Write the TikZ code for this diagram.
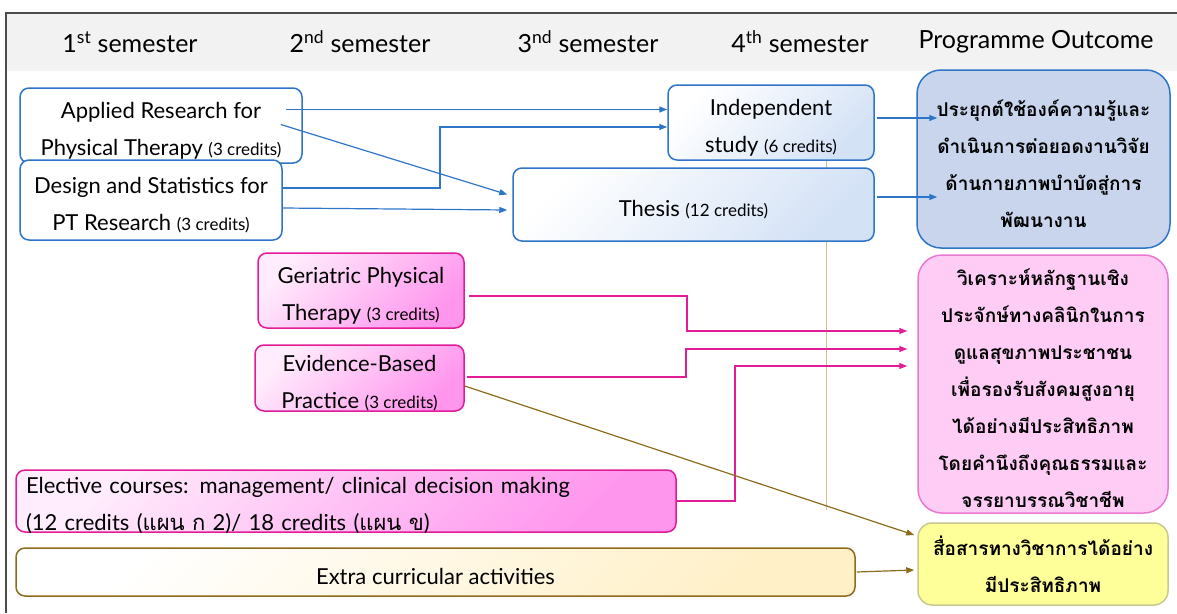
\documentclass[tikz,border=0pt]{standalone}
\usepackage{fontspec}
\setmainfont{Lato}
\newfontfamily\thaifont[Script=Thai]{Loma}
\usetikzlibrary{calc,arrows.meta,backgrounds}

\definecolor{ptblue}{RGB}{46,117,200}
\definecolor{ptbluefill}{RGB}{200,213,236}
\definecolor{ptbluelight}{RGB}{212,226,246}
\definecolor{ptpink}{RGB}{226,28,152}
\definecolor{ptpinkline}{RGB}{232,120,210}
\definecolor{ptpinkfill}{RGB}{255,204,246}
\definecolor{ptpinkdark}{RGB}{255,150,238}
\definecolor{ptpinklight}{RGB}{255,236,252}
\definecolor{ptolive}{RGB}{140,108,28}
\definecolor{pttan}{RGB}{210,190,145}
\definecolor{ptyellow}{RGB}{255,255,153}
\definecolor{ptyellowline}{RGB}{200,200,140}
\definecolor{ptcream}{RGB}{255,240,200}
\definecolor{ptgray}{RGB}{242,242,242}

\newcommand{\cred}[1]{{\fontsize{17}{17}\selectfont #1}}
\newcommand{\lift}{\rule{0pt}{26pt}}

\begin{document}
\begin{tikzpicture}[x=1pt,y=-1pt, tip/.style={-{Triangle[length=8pt,width=6pt]}}]
		% Define styles
		\tikzstyle{head}=[font=\fontsize{25}{25}\selectfont]
		\tikzstyle{course}=[draw=ptblue,line width=1.5pt,rounded corners=9pt,align=center,inner sep=0pt,font=\fontsize{22}{37}\selectfont]
		\tikzstyle{blue course}=[course,top color=white,bottom color=ptbluelight,shading angle=45]
		\tikzstyle{pink course}=[course,draw=ptpink,top color=ptpinklight,bottom color=ptpinkdark,shading angle=45]
		\tikzstyle{outcome}=[line width=1.5pt,rounded corners=24pt,align=center,inner sep=0pt,font=\thaifont\bfseries\fontsize{19}{37}\selectfont]
		\tikzstyle{blue edge}=[draw,ptblue,line width=1.2pt,tip]
		\tikzstyle{pink edge}=[draw,ptpink,line width=1.2pt,tip]
		\tikzstyle{olive edge}=[draw,ptolive,line width=1.2pt,tip]
		
		\useasboundingbox (0,0) rectangle (1177,613);
		
		% Header band and frame
		\fill[ptgray] (6,13) rectangle (1177,71);
		\draw[gray!60!black,line width=1.2pt] (6,613) -- (6,13) -- (1177,13);
		\node[head] (sem1) at (130,42) {1\textsuperscript{st} semester};
		\node[head] (sem2) at (360,42) {2\textsuperscript{nd} semester};
		\node[head] (sem3) at (588,42) {3\textsuperscript{nd} semester};
		\node[head] (sem4) at (800,42) {4\textsuperscript{th} semester};
		\node[head] (outc) at (1036,42) {Programme Outcome};
		
		% Research courses
		\node[course,fill=white,minimum width=282,minimum height=75] (AR) at (161,125.5)
			{\lift Applied Research for\\Physical Therapy \cred{(3 credits)}};
		\node[course,fill=white,minimum width=262,minimum height=80] (DS) at (151,200)
			{\lift Design and Statistics for\\PT Research \cred{(3 credits)}};
		\node[blue course,minimum width=206,minimum height=75] (IS) at (771,122.5)
			{\lift Independent\\study \cred{(6 credits)}};
		\node[blue course,minimum width=361,minimum height=73] (Thesis) at (693.5,204.5)
			{\lift Thesis \cred{(12 credits)}};
		
		% Clinical courses
		\node[pink course,minimum width=206,minimum height=75] (GPT) at (361,290.5)
			{\lift Geriatric Physical\\Therapy \cred{(3 credits)}};
		\node[pink course,minimum width=209,minimum height=66] (EBP) at (359.5,378)
			{\lift Evidence-Based\\Practice \cred{(3 credits)}};
		\node[pink course,align=left,text width=640,inner ysep=-4pt,minimum width=660,minimum height=62] (EC) at (346,501)
			{\lift Elective courses: management/ clinical decision making\\(12 credits ({\thaifont แผน ก} 2)/ 18 credits ({\thaifont แผน ข})};
		\node[course,draw=ptolive,top color=white,bottom color=ptcream,shading angle=45,minimum width=839,minimum height=48] (EX) at (435.5,572)
			{\lift Extra curricular activities};
		
		% Programme outcomes
		\node[outcome,draw=ptblue,fill=ptbluefill,minimum width=253,minimum height=178] (PO1) at (1043.5,159)
			{\lift ประยุกต์ใช้องค์ความรู้และ\\ดำเนินการต่อยอดงานวิจัย\\ด้านกายภาพบำบัดสู่การ\\พัฒนางาน};
		\node[outcome,draw=ptpinkline,fill=ptpinkfill,minimum width=250,minimum height=258] (PO2) at (1043,384)
			{\lift วิเคราะห์หลักฐานเชิง\\ประจักษ์ทางคลินิกในการ\\ดูแลสุขภาพประชาชน\\เพื่อรองรับสังคมสูงอายุ\\ได้อย่างมีประสิทธิภาพ\\โดยคำนึงถึงคุณธรรมและ\\จรรยาบรรณวิชาชีพ};
		\node[outcome,rounded corners=14pt,draw=ptyellowline,fill=ptyellow,minimum width=250,minimum height=82] (PO3) at (1043,564)
			{สื่อสารทางวิชาการได้อย่าง\\มีประสิทธิภาพ};
		
		% Thin line behind the thesis box
		\coordinate (tanEnd) at (826,510);
		\begin{scope}[on background layer]
			\draw[pttan,line width=1pt] ($(IS.south)+(55,0)$) -- (tanEnd);
		\end{scope}
		
		% Research connectors
		\draw[blue edge] ($(AR.east)+(-17,-16)$) -- ($(IS.west)+(0,-13)$);
		\draw[blue edge] ($(AR.east)+(-22,-1)$) -- ($(Thesis.west)+(-5,-10)$);
		\draw[blue edge] ($(DS.east)+(0,-12)$) -| (440,127) -- ($(IS.west)+(0,4.5)$);
		\draw[blue edge] ($(DS.east)+(0,8)$) -- ($(Thesis.west)+(-5,5.5)$);
		\draw[blue edge] ($(IS.east)+(2,-4.5)$) -- ($(PO1.west)+(21,-41)$);
		\draw[blue edge] ($(Thesis.east)+(2,-7.5)$) -- ($(PO1.west)+(21,38)$);
		
		% Clinical connectors
		\draw[pink edge] ($(GPT.east)+(4,5.5)$) -| (687,331) -- ($(PO2.west)+(-10,-53)$);
		\draw[pink edge] ($(EBP.east)+(2,-1)$) -| (686,349) -- ($(PO2.west)+(-10,-35)$);
		\draw[pink edge] (EC.east) -| (735,366) -- ($(PO2.west)+(-10,-18)$);
		
		% Communication connectors
		\draw[olive edge] ($(EBP.east)+(0,8)$) -- ($(PO3.west)+(-3,-29)$);
		\draw[olive edge] ($(EX.east)+(1,0)$) -- ($(PO3.west)+(-3,6)$);
		
	\end{tikzpicture}
\end{document}
